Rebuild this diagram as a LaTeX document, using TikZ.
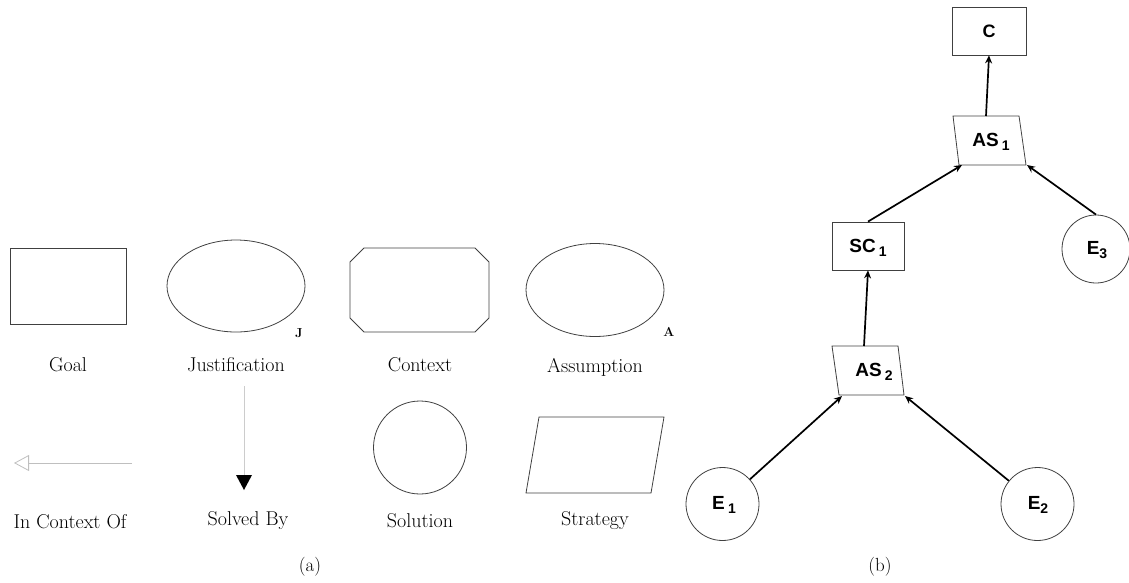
\documentclass[tikz,border=0pt]{standalone}
\usepackage{fontspec}
\newfontfamily\lsans{Liberation Sans}
\usetikzlibrary{arrows.meta}
\newcommand{\sbs}[1]{\raisebox{-0.35ex}{\fontsize{14}{14}\selectfont #1}}
\begin{document}
\begin{tikzpicture}[x=1pt,y=-1pt,
  shp/.style={draw=black!75, line width=0.8pt},
  lbl/.style={font=\fontsize{20}{24}\selectfont, inner sep=0pt},
  tag/.style={font=\fontsize{13}{14}\selectfont\bfseries, inner sep=0pt},
  gbox/.style={draw=black!75, line width=0.8pt, inner sep=0pt},
  sol/.style={draw=black!75, line width=0.8pt, circle, inner sep=0pt},
  gsn/.style={font=\lsans\bfseries\fontsize{19}{20}\selectfont, inner sep=0pt},
  arr/.style={line width=1.7pt, -{Stealth[length=8pt,width=7pt]}},
  captxt/.style={font=\fontsize{19}{22}\selectfont, inner sep=0pt}]
\useasboundingbox (0,0) rectangle (1129,582);
% ---------- (a) legend ----------
\draw[shp] (10,248) rectangle (126,324);
\node[lbl] (goal) at (68,365) {Goal};
\draw[shp] (236,286) ellipse [x radius=69, y radius=46];
\node[tag] (jt) at (299,333) {J};
\node[lbl] (just) at (236,365) {Justification};
\draw[shp] (364,248) -- (475,248) -- (489,262) -- (489,318) -- (475,332) -- (364,332) -- (350,318) -- (350,262) -- cycle;
\node[lbl] (ctx) at (420,365) {Context};
\draw[shp] (595,290) ellipse [x radius=69, y radius=46.5];
\node[tag] (at) at (669,332) {A};
\node[lbl] (asm) at (595,367) {Assumption};
% In context of
\coordinate (ico1) at (132,463);
\coordinate (ico2) at (14,463);
\draw[draw=black!25, line width=0.8pt, -{Triangle[open, length=15pt, width=16pt]}] (ico1) -- (ico2);
\node[lbl] (ico) at (70,522) {In Context Of};
% Solved by
\coordinate (sb1) at (244,386);
\coordinate (sb2) at (244,475);
\draw[draw=black!20, line width=0.8pt] (sb1) -- (sb2);
\fill[black] (236,475) -- (252,475) -- (244,490) -- cycle;
\node[lbl] (sb) at (248,521) {Solved By};
% Solution
\draw[shp] (420,447.5) circle [radius=46.5];
\node[lbl] (soln) at (420,521) {Solution};
% Strategy
\draw[shp] (539,417) -- (664,417) -- (651,493) -- (526,493) -- cycle;
\node[lbl] (strat) at (595,521) {Strategy};
\node[captxt] (capa) at (310,567) {(a)};
% ---------- (b) argument ----------
\node[gbox, minimum width=74pt, minimum height=48pt] (C) at (989,31) {};
\node[gsn, font=\lsans\bfseries\fontsize{18}{19}\selectfont] at (C.center) {C};
\draw[shp] (953,116) -- (1019,116) -- (1026,165) -- (959,165) -- cycle;
\node[gsn] (as1) at (991,142) {AS\,\sbs{1}};
\node[gbox, minimum width=72pt, minimum height=48pt] (sc1) at (868,246) {};
\node[gsn] at (868,248) {SC\,\sbs{1}};
\node[sol, minimum size=68pt] (e3) at (1096,249) {};
\node[gsn] at (1097,250) {E\sbs{3}};
\draw[shp] (832,346) -- (898,346) -- (904,395) -- (839,395) -- cycle;
\node[gsn] (as2) at (874,372) {AS\,\sbs{2}};
\node[sol, minimum size=73pt] (e1) at (722.5,504) {};
\node[gsn] at (724,505) {E\,\sbs{1}};
\node[sol, minimum size=73pt] (e2) at (1037.5,504) {};
\node[gsn] at (1038,505) {E\sbs{2}};
% connection points on the strategies
\coordinate (as1t) at (986,116);
\coordinate (as1bl) at (962,165);
\coordinate (as1br) at (1027,165);
\coordinate (as2t) at (864,346);
\coordinate (as2bl) at (842,396);
\coordinate (as2br) at (905,396);
\draw[arr] (as1t) -- (C.south);
\draw[arr] (sc1.north) -- (as1bl);
\draw[arr] (e3.north) -- (as1br);
\draw[arr] (as2t) -- (sc1.south);
\draw[arr] (e1.42) -- (as2bl);
\draw[arr] (e2.141) -- (as2br);
\node[captxt] (capb) at (880,567) {(b)};
\end{tikzpicture}
\end{document}
